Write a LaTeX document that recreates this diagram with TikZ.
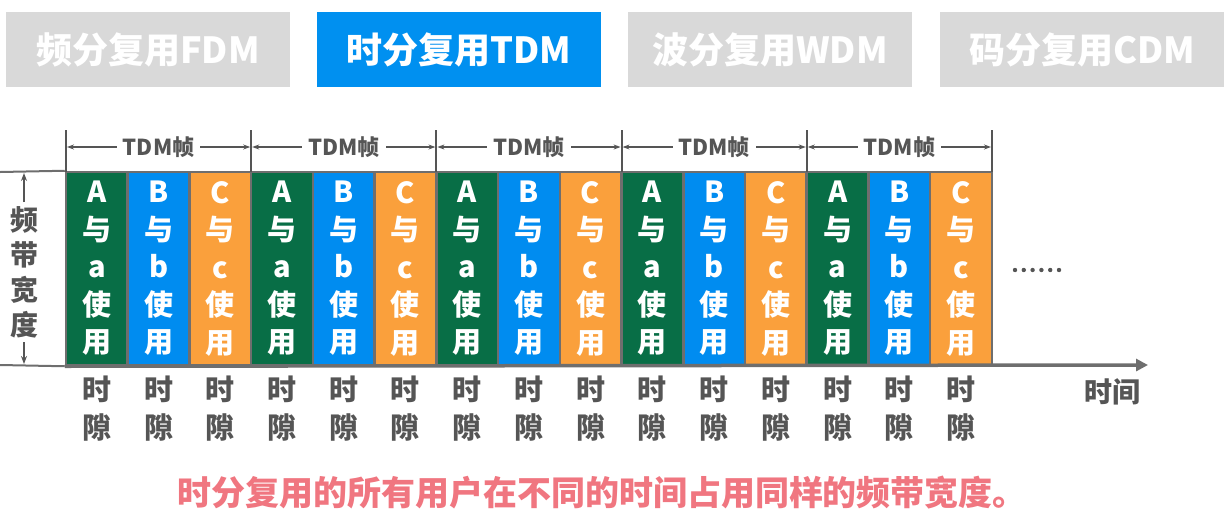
\documentclass[tikz,border=0pt]{standalone}
\usepackage{fontspec}
\setmainfont{Noto Sans CJK SC}
\usetikzlibrary{arrows.meta}
\definecolor{tabgray}{RGB}{217,217,217}
\definecolor{tabblue}{RGB}{0,144,240}
\definecolor{cgreen}{RGB}{8,110,70}
\definecolor{cblue}{RGB}{0,140,240}
\definecolor{corange}{RGB}{250,160,60}
\definecolor{txtgray}{RGB}{85,85,85}
\definecolor{lngray}{RGB}{110,110,110}
\definecolor{pinktxt}{RGB}{240,118,128}
\begin{document}
\begin{tikzpicture}[x=1pt,y=-1pt,
  tab/.style={minimum width=284pt,minimum height=75pt,inner sep=0pt,text=white,font=\fontsize{36}{38}\selectfont\bfseries},
  cell/.style={minimum width=61.7pt,minimum height=193pt,inner sep=0pt,draw=lngray,line width=2.5pt,text=white,align=center,font=\fontsize{29}{37.5}\selectfont\bfseries},
  slot/.style={inner sep=0pt,text=txtgray,align=center,font=\fontsize{29}{38}\selectfont\bfseries},
  tick/.style={draw=txtgray,line width=2pt},
  dim/.style={draw=txtgray,line width=1.6pt,{Stealth[length=7pt,width=5pt]}-{Stealth[length=7pt,width=5pt]}},
  dimlbl/.style={fill=white,inner xsep=6pt,inner ysep=1pt,text=txtgray,font=\fontsize{22}{24}\selectfont\bfseries}
]
\useasboundingbox (0,0) rectangle (1227,531);
% tabs
\node[tab,fill=tabgray] (t1) at (148,49.5) {频分复用FDM};
\node[tab,fill=tabblue] (t2) at (459,49.5) {时分复用TDM};
\node[tab,fill=tabgray] (t3) at (770,49.5) {波分复用WDM};
\node[tab,fill=tabgray] (t4) at (1082,49.5) {码分复用CDM};
% cells
\foreach \i in {0,...,4}{
  \pgfmathsetmacro{\xa}{66+185.2*\i+30.85}
  \pgfmathsetmacro{\xb}{66+185.2*\i+92.55}
  \pgfmathsetmacro{\xc}{66+185.2*\i+154.25}
  \node[cell,fill=cgreen] (a\i) at (\xa,268.5) {A\\与\\a\\使\\用};
  \node[cell,fill=cblue] (b\i) at (\xb,268.5) {B\\与\\b\\使\\用};
  \node[cell,fill=corange] (c\i) at (\xc,268.5) {C\\与\\c\\使\\用};
  \node[slot] (sa\i) at (\xa,409) {时\\隙};
  \node[slot] (sb\i) at (\xb,409) {时\\隙};
  \node[slot] (sc\i) at (\xc,409) {时\\隙};
}
% frame ticks
\foreach \i in {0,...,5}{
  \pgfmathsetmacro{\xt}{66+185.2*\i}
  \coordinate (u\i) at (\xt,130);
  \coordinate (m\i) at (\xt,147);
  \coordinate (l\i) at (\xt,172);
  \draw[tick] (u\i) -- (l\i);
}
\foreach \i [evaluate=\i as \j using int(\i+1)] in {0,...,4}{
  \draw[dim] ([xshift=1pt]m\i) -- ([xshift=-1pt]m\j) node[midway,dimlbl] (f\i) {TDM帧};
}
% left band-width marker
\coordinate (lt0) at (0,172);
\coordinate (lb0) at (0,365);
\coordinate (ltop) at (24,173);
\coordinate (lbot) at (24,364);
\draw[draw=lngray,line width=2pt] (lt0) -- (a0.north west);
\draw[draw=lngray,line width=2pt] (lb0) -- (a0.south west);
\node[inner sep=0pt,text=txtgray,align=center,font=\fontsize{28}{35}\selectfont\bfseries] (bw) at (24,272) {频\\带\\宽\\度};
\draw[draw=txtgray,line width=1.6pt,-{Stealth[length=8pt,width=6pt]}] (bw.north) ++(0,-4) -- (ltop);
\draw[draw=txtgray,line width=1.6pt,-{Stealth[length=8pt,width=6pt]}] (bw.south) ++(0,4) -- (lbot);
% time axis
\coordinate (axend) at (1148,365);
\draw[draw=lngray,line width=3.5pt,-{Triangle[length=12pt,width=12pt]}] (a0.south west) -- (axend);
\node[inner sep=0pt,text=txtgray,font=\fontsize{28}{30}\selectfont\bfseries] (tl) at (1112,392) {时间};
% dots
\foreach \k in {0,...,5}{
  \fill[txtgray] (1015+8.8*\k,270) circle (2.2pt);
}
% summary
\node[inner sep=0pt,text=pinktxt,font=\fontsize{34}{36}\selectfont\bfseries] (sum) at (602,493) {时分复用的所有用户在不同的时间占用同样的频带宽度。};
\end{tikzpicture}
\end{document}
